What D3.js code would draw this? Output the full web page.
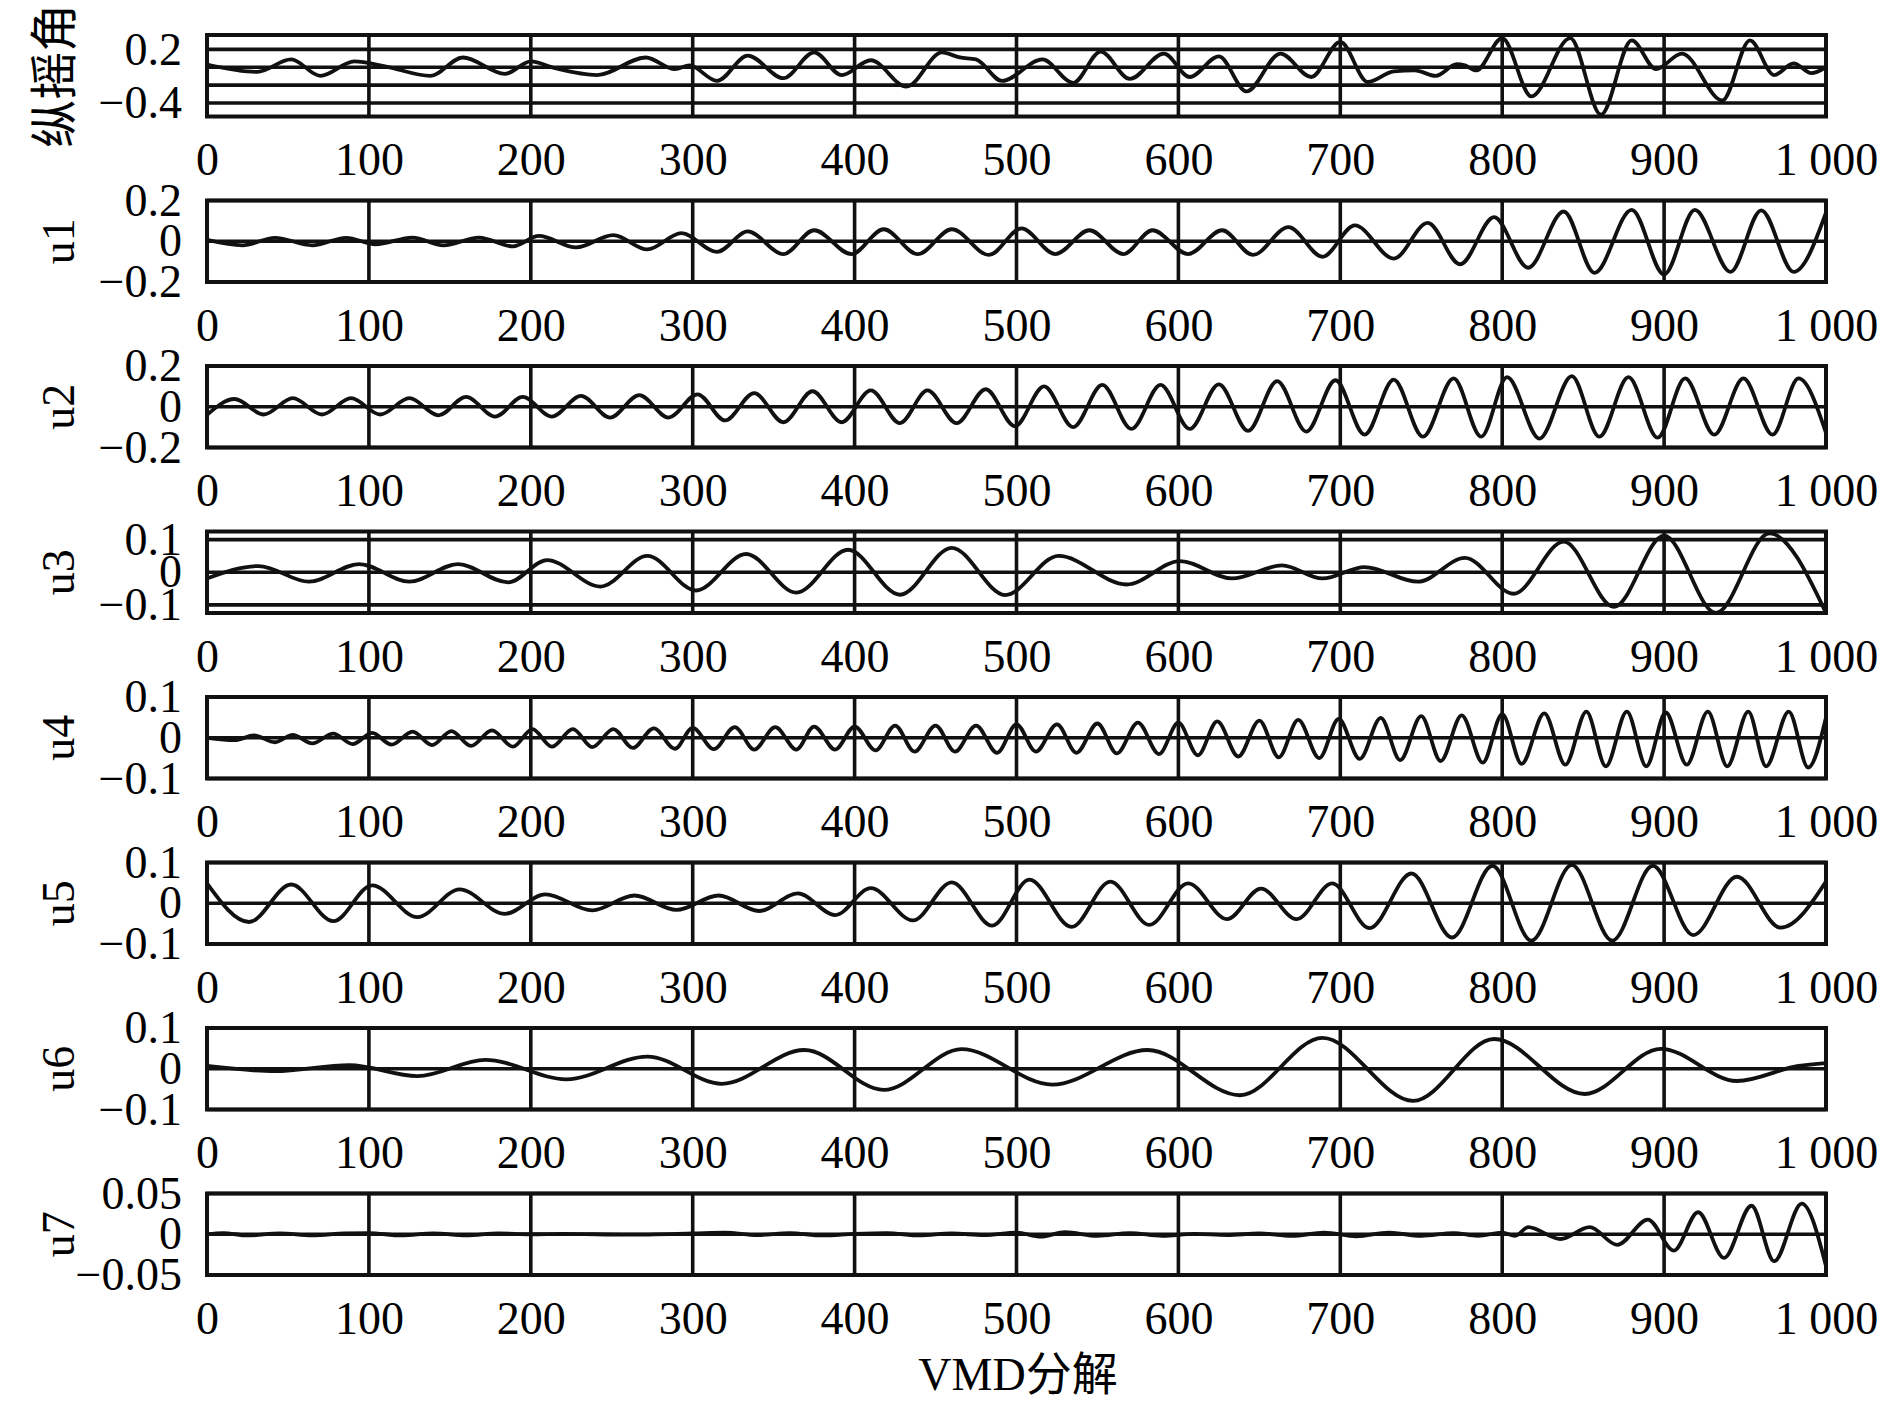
<!DOCTYPE html>
<html>
<head>
<meta charset="utf-8">
<script src="https://cdn.jsdelivr.net/npm/d3@7"></script>
<style>
  html, body { margin: 0; padding: 0; background: #fff; }
  svg text { font-family: "Liberation Serif", "Times New Roman", "Noto Sans CJK SC", serif; fill: #000; }
</style>
</head>
<body>
<script>
// ---------------- data ----------------
const X_TICKS = [0, 100, 200, 300, 400, 500, 600, 700, 800, 900, 1000];
const X_TICK_LABELS = ["0", "100", "200", "300", "400", "500", "600", "700", "800", "900", "1 000"];
const X_TITLE = "VMD分解";

const PANEL_NAMES = ["纵摇角", "u1", "u2", "u3", "u4", "u5", "u6", "u7"];

const Y_DOMAINS = [
  [-0.55, 0.36], [-0.2, 0.2], [-0.2, 0.2], [-0.125, 0.125],
  [-0.1, 0.1], [-0.1, 0.1], [-0.1, 0.1], [-0.05, 0.05]
];
const Y_GRID = [
  [0.2, 0, -0.2, -0.4], [0.2, 0, -0.2], [0.2, 0, -0.2], [0.1, 0, -0.1],
  [0.1, 0, -0.1], [0.1, 0, -0.1], [0.1, 0, -0.1], [0.05, 0, -0.05]
];
const Y_TICKS = [
  [0.2, -0.4], [0.2, 0, -0.2], [0.2, 0, -0.2], [0.1, 0, -0.1],
  [0.1, 0, -0.1], [0.1, 0, -0.1], [0.1, 0, -0.1], [0.05, 0, -0.05]
];
const Y_TICK_LABELS = [
  ["0.2", "\u22120.4"], ["0.2", "0", "\u22120.2"], ["0.2", "0", "\u22120.2"], ["0.1", "0", "\u22120.1"],
  ["0.1", "0", "\u22120.1"], ["0.1", "0", "\u22120.1"], ["0.1", "0", "\u22120.1"], ["0.05", "0", "\u22120.05"]
];

// series: [sample index, value] read at the extrema of each curve
const pitch = [[0,0.03],[31,-0.052],[52,0.087],[70,-0.096],[91,0.065],[110,0.01],[138,-0.096],[158,0.109],[184,-0.074],[200,0.065],[215,-0.01],[241,-0.087],[271,0.109],[289,-0.022],[298,0.02],[315,-0.152],[334,0.13],[356,-0.122],[375,0.165],[392,-0.087],[410,0.078],[432,-0.217],[454,0.165],[465,0.109],[475,0.087],[491,-0.152],[516,0.087],[535,-0.174],[552,0.174],[570,-0.13],[591,0.152],[607,-0.109],[625,0.122],[642,-0.27],[663,0.152],[682,-0.109],[700,0.283],[717,-0.165],[733,-0.045],[746,-0.035],[759,-0.096],[772,0.035],[777,0.02],[784,-0.035],[800,0.326],[818,-0.326],[842,0.326],[861,-0.53],[880,0.30],[895,-0.02],[911,0.152],[936,-0.37],[953,0.30],[968,-0.087],[980,0.043],[991,-0.065],[1000,0]];

const u1 = [[0,0.007],[22,-0.02],[42,0.017],[65,-0.02],[86,0.017],[104,-0.015],[127,0.018],[146,-0.02],[168,0.018],[189,-0.025],[205,0.026],[228,-0.03],[251,0.03],[272,-0.04],[293,0.04],[315,-0.052],[334,0.048],[356,-0.063],[375,0.054],[398,-0.063],[418,0.059],[439,-0.063],[460,0.059],[483,-0.067],[503,0.063],[524,-0.063],[545,0.054],[566,-0.063],[584,0.054],[606,-0.063],[627,0.054],[646,-0.067],[668,0.069],[689,-0.076],[709,0.078],[733,-0.085],[754,0.09],[774,-0.113],[795,0.118],[816,-0.13],[838,0.146],[857,-0.155],[880,0.154],[900,-0.163],[919,0.154],[941,-0.15],[960,0.152],[980,-0.15],[1000,0.14]];

const u2 = [[0,-0.04],[17,0.038],[35,-0.038],[53,0.042],[71,-0.038],[89,0.042],[107,-0.038],[125,0.042],[143,-0.042],[160,0.048],[178,-0.048],[195,0.048],[213,-0.048],[231,0.053],[249,-0.053],[267,0.057],[285,-0.053],[303,0.061],[320,-0.067],[338,0.067],[356,-0.076],[374,0.076],[392,-0.076],[410,0.08],[428,-0.08],[445,0.08],[463,-0.08],[481,0.086],[499,-0.095],[517,0.1],[535,-0.1],[553,0.107],[571,-0.109],[589,0.107],[607,-0.109],[625,0.11],[643,-0.118],[661,0.126],[679,-0.122],[697,0.13],[715,-0.137],[733,0.133],[751,-0.147],[770,0.139],[787,-0.147],[803,0.145],[823,-0.156],[843,0.15],[860,-0.147],[878,0.145],[896,-0.152],[913,0.139],[931,-0.137],[949,0.139],[967,-0.137],[983,0.139],[1000,-0.128]];

const u3 = [[0,-0.019],[32,0.019],[63,-0.029],[94,0.025],[125,-0.029],[155,0.025],[186,-0.031],[210,0.0375],[243,-0.044],[272,0.05],[302,-0.056],[333,0.056],[364,-0.0625],[396,0.069],[428,-0.069],[460,0.075],[493,-0.07],[526,0.05],[568,-0.0375],[601,0.034],[633,-0.019],[664,0.021],[689,-0.019],[715,0.016],[748,-0.029],[777,0.044],[807,-0.066],[838,0.094],[869,-0.106],[900,0.1125],[932,-0.125],[965,0.119],[1000,-0.125]];

const u4 = [[0,0],[17,-0.006],[29,0.0055],[42,-0.011],[53,0.0073],[65,-0.014],[78,0.01],[90,-0.0156],[102,0.012],[114,-0.017],[127,0.015],[139,-0.018],[151,0.0165],[163,-0.02],[176,0.018],[189,-0.022],[201,0.021],[213,-0.022],[226,0.021],[238,-0.023],[251,0.021],[263,-0.025],[276,0.023],[289,-0.027],[300,0.024],[313,-0.028],[326,0.026],[338,-0.029],[351,0.026],[364,-0.029],[375,0.0275],[388,-0.029],[400,0.0275],[413,-0.031],[425,0.03],[437,-0.034],[450,0.03],[462,-0.034],[475,0.03],[488,-0.037],[500,0.033],[512,-0.034],[525,0.033],[537,-0.037],[550,0.035],[562,-0.0385],[575,0.037],[588,-0.04],[600,0.037],[612,-0.043],[624,0.04],[637,-0.046],[650,0.042],[662,-0.048],[674,0.044],[687,-0.05],[699,0.046],[712,-0.052],[725,0.049],[737,-0.055],[750,0.053],[762,-0.057],[775,0.055],[788,-0.061],[800,0.058],[812,-0.064],[826,0.06],[839,-0.066],[852,0.064],[864,-0.07],[877,0.064],[889,-0.07],[901,0.062],[914,-0.066],[927,0.064],[939,-0.07],[952,0.064],[963,-0.07],[977,0.064],[989,-0.073],[1000,0.05]];

const u5 = [[0,0.049],[26,-0.046],[52,0.046],[78,-0.044],[102,0.044],[130,-0.034],[156,0.034],[184,-0.026],[209,0.022],[238,-0.0175],[264,0.019],[290,-0.0165],[316,0.019],[341,-0.019],[365,0.024],[388,-0.029],[410,0.037],[436,-0.042],[460,0.051],[485,-0.055],[508,0.058],[534,-0.058],[558,0.053],[582,-0.053],[606,0.049],[630,-0.039],[651,0.036],[673,-0.039],[695,0.049],[718,-0.061],[744,0.073],[769,-0.084],[794,0.092],[818,-0.092],[843,0.094],[868,-0.092],[893,0.092],[918,-0.078],[945,0.065],[972,-0.06],[1000,0.053]];

const u6 = [[0,0.007],[42,-0.006],[88,0.009],[130,-0.018],[172,0.022],[222,-0.026],[272,0.03],[318,-0.037],[369,0.046],[418,-0.052],[466,0.048],[522,-0.039],[581,0.046],[638,-0.065],[689,0.076],[745,-0.079],[795,0.073],[851,-0.062],[898,0.049],[945,-0.03],[983,0.007],[1000,0.014]];

const u7 = [[0,0],[10,0.0015],[25,-0.0015],[45,0.001],[65,-0.0015],[85,0.001],[100,0.0015],[120,-0.0015],[140,0.001],[160,-0.0015],[180,0.001],[200,0],[220,0.0005],[260,-0.0005],[300,0.001],[320,0.002],[340,-0.001],[360,0.0015],[380,-0.0015],[400,0.0005],[420,0.0015],[440,-0.0015],[460,0.001],[480,-0.001],[500,0.002],[515,-0.003],[530,0.0025],[550,-0.002],[570,0.0015],[590,-0.002],[610,0.0005],[630,-0.001],[650,0.001],[670,-0.002],[690,0.002],[710,-0.0025],[730,0.002],[750,-0.002],[770,0.0015],[785,-0.002],[800,0.002],[808,-0.002],[816,0.0087],[836,-0.0058],[854,0.0087],[871,-0.013],[890,0.018],[906,-0.02],[921,0.027],[937,-0.029],[954,0.035],[968,-0.033],[985,0.0375],[1000,-0.039]];

const SERIES = [pitch, u1, u2, u3, u4, u5, u6, u7];

// ---------------- drawing ----------------
const W = 1890, H = 1408;
const LEFT = 207, RIGHT = 1826;
const TOP0 = 35, STEP = 165.5, PH = 81.5;
const FS = 46;

const svg = d3.select("body").append("svg")
  .attr("width", W).attr("height", H)
  .attr("viewBox", `0 0 ${W} ${H}`);
svg.append("rect").attr("width", W).attr("height", H).attr("fill", "#fff");
const defs = svg.append("defs");

const x = d3.scaleLinear().domain([0, 1000]).range([LEFT, RIGHT]);

SERIES.forEach((data, i) => {
  const top = TOP0 + STEP * i;
  const bottom = top + PH;
  const y = d3.scaleLinear().domain(Y_DOMAINS[i]).range([bottom, top]);
  const g = svg.append("g");

  defs.append("clipPath").attr("id", "clip" + i)
    .append("rect").attr("x", LEFT).attr("y", top).attr("width", RIGHT - LEFT).attr("height", PH);

  // horizontal grid lines
  g.selectAll("line.hg").data(Y_GRID[i]).join("line")
    .attr("class", "hg")
    .attr("x1", x(0)).attr("x2", x(1000))
    .attr("y1", d => y(d)).attr("y2", d => y(d))
    .attr("stroke", "#111").attr("stroke-width", 3.6);

  // vertical grid lines
  g.selectAll("line.vg").data(X_TICKS).join("line")
    .attr("class", "vg")
    .attr("x1", d => x(d)).attr("x2", d => x(d))
    .attr("y1", top).attr("y2", bottom)
    .attr("stroke", "#111").attr("stroke-width", 3.6);

  // the curve
  const line = d3.line()
    .x(d => x(d[0])).y(d => y(d[1]))
    .curve(d3.curveMonotoneX);
  g.append("path").datum(data)
    .attr("clip-path", `url(#clip${i})`)
    .attr("d", line)
    .attr("fill", "none").attr("stroke", "#111")
    .attr("stroke-width", 3.8).attr("stroke-linejoin", "round");

  // frame
  g.append("rect")
    .attr("x", LEFT).attr("y", top).attr("width", RIGHT - LEFT).attr("height", PH)
    .attr("fill", "none").attr("stroke", "#111").attr("stroke-width", 4);

  // x axis labels
  const xa = d3.axisBottom(x).tickValues(X_TICKS)
    .tickFormat((d, k) => X_TICK_LABELS[k])
    .tickSizeInner(0).tickSizeOuter(0).tickPadding(26);
  const gx = g.append("g").attr("transform", `translate(0,${bottom})`).call(xa);
  gx.select(".domain").remove();
  gx.selectAll("text").attr("font-size", FS)
    .attr("font-family", "'Liberation Serif', 'Times New Roman', serif");

  // y axis labels
  const ya = d3.axisLeft(y).tickValues(Y_TICKS[i])
    .tickFormat((d, k) => Y_TICK_LABELS[i][k])
    .tickSizeInner(0).tickSizeOuter(0).tickPadding(25);
  const gy = g.append("g").attr("transform", `translate(${LEFT},0)`).call(ya);
  gy.select(".domain").remove();
  gy.selectAll("text").attr("font-size", FS)
    .attr("font-family", "'Liberation Serif', 'Times New Roman', serif");

  // panel name
  g.append("text")
    .attr("transform", `translate(${i === 0 ? 54 : 58},${top + PH / 2}) rotate(-90)`)
    .attr("text-anchor", "middle")
    .attr("dominant-baseline", "central")
    .attr("font-size", i === 0 ? 48 : FS)
    .text(PANEL_NAMES[i]);
});

svg.append("text")
  .attr("x", 1018).attr("y", 1374)
  .attr("text-anchor", "middle")
  .attr("dominant-baseline", "central")
  .attr("font-size", FS)
  .text(X_TITLE);
</script>
</body>
</html>
